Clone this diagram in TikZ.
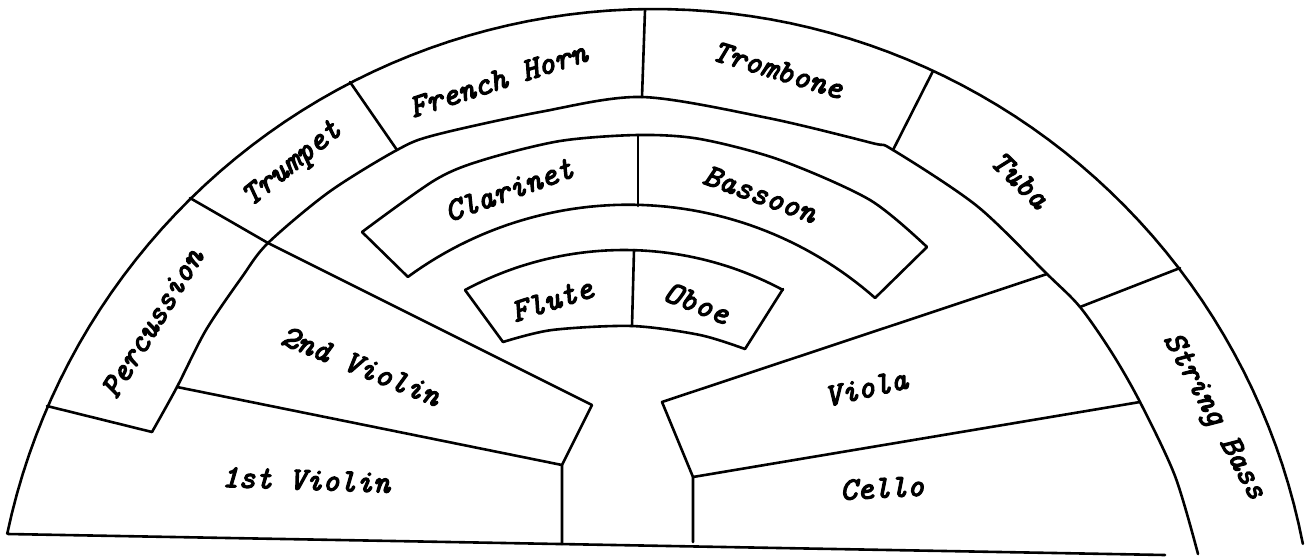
\documentclass[tikz,border=0pt]{standalone}
\usepackage{fontspec}
\newfontfamily\twfont{lmmono10-italic.otf}[FakeBold=4]
\begin{document}
\begin{tikzpicture}[x=1pt,y=-1pt,line width=2.6pt,line join=round,line cap=round,
  lbl/.style={font=\twfont\fontsize{32}{34}\selectfont,inner sep=0pt}]
\useasboundingbox (0,0) rectangle (1305,557);
% ---------- key points ----------
\coordinate (O1) at (8,534);
\coordinate (P1) at (47,406);
\coordinate (P2) at (190,198);
\coordinate (P3) at (350,82);
\coordinate (P4) at (645,10);
\coordinate (P5) at (933,71);
\coordinate (P6) at (1180,268);
\coordinate (Q1) at (152,432);
\coordinate (Q2) at (268,243);
\coordinate (Q3) at (397,150);
\coordinate (Q4) at (642,97);
\coordinate (Q5) at (893,150);
\coordinate (Q6) at (1080,307);
\coordinate (Q7) at (1198,554);
\coordinate (VL) at (177,387);
\coordinate (VR) at (1140,402);
\coordinate (VT) at (1047,274);
\coordinate (S2a) at (592,405);
\coordinate (S2b) at (562,465);
\coordinate (S1b) at (562,544);
\coordinate (Va) at (662,402);
\coordinate (Vb) at (693,477);
\coordinate (Cb) at (693,542);
\coordinate (BR) at (1165,555);
% ---------- outer arc ----------
\draw plot[domain=11:168.1,samples=90,variable=\t] ({654+661*cos(\t)},{670-661*sin(\t)});
% ---------- inner brass / percussion / bass arc ----------
\draw plot[smooth] coordinates {(Q1) (VL) (206,330) (242,277) (Q2) (329,192) (Q3) (435,135) (540,112) (Q4) (768,118) (872,143) (Q5) (977,206) (VT) (Q6) (1112,353) (VR) (1175,476) (Q7)};
% ---------- outer row dividers ----------
\draw (P1) -- (Q1);
\draw (P2) -- (Q2);
\draw (P3) -- (Q3);
\draw (P4) -- (Q4);
\draw (P5) -- (Q5);
\draw (P6) -- (Q6);
% ---------- strings ----------
\draw (Q2) -- (S2a) -- (S2b) -- (S1b);
\draw (VL) -- (S2b);
\draw (VT) -- (Va) -- (Vb) -- (Cb);
\draw (Vb) -- (VR);
\draw (O1) -- (BR);
% ---------- clarinet / bassoon ----------
\coordinate (C1) at (362,232);
\coordinate (C2) at (408,277);
\coordinate (B1) at (927,247);
\coordinate (B2) at (875,298);
\draw plot[smooth] coordinates {(C1) (435,180) (483,160) (560,141) (638,135) (700,139) (780,160) (870,200) (B1)};
\draw plot[domain=48.6:126.2,samples=60,variable=\t] ({628.4+373*cos(\t)},{577.7-373*sin(\t)});
\draw (C1) -- (C2);
\draw (B1) -- (B2);
\draw (638,135) -- (638,206);
% ---------- flute / oboe ----------
\coordinate (F1) at (465,290);
\coordinate (F2) at (503,342);
\coordinate (E1) at (783,289);
\coordinate (E2) at (745,349);
\draw plot[domain=61.8:118.2,samples=50,variable=\t] ({624+336*cos(\t)},{586-336*sin(\t)});
\draw plot[smooth] coordinates {(F2) (552,330) (632,326) (700,335) (E2)};
\draw (F1) -- (F2);
\draw (E1) -- (E2);
\draw (634,250) -- (632,326);
% ---------- labels ----------
\node[lbl,rotate=58.5] (perc) at (152,323) {Percussion};
\node[lbl,rotate=39] (trumpet) at (293,165) {Trumpet};
\node[lbl,rotate=18] (horn) at (498,80) {French Horn};
\node[lbl,rotate=-17] (trombone) at (778,70) {Trombone};
\node[lbl,rotate=-44] (tuba) at (1020,180) {Tuba};
\node[lbl,rotate=-61.5] (bass) at (1213,417) {String Bass};
\node[lbl,rotate=20] (clarinet) at (509,190) {Clarinet};
\node[lbl,rotate=-20] (bassoon) at (760,194) {Bassoon};
\node[lbl,rotate=18] (flute) at (552,300) {Flute};
\node[lbl,rotate=-22] (oboe) at (697,303) {Oboe};
\node[lbl,rotate=-22] (violin2) at (361,366) {2nd Violin};
\node[lbl,rotate=-2] (violin1) at (306,480) {1st Violin};
\node[lbl,rotate=13] (viola) at (866,388) {Viola};
\node[lbl,rotate=3] (cello) at (882,488) {Cello};
\end{tikzpicture}
\end{document}
